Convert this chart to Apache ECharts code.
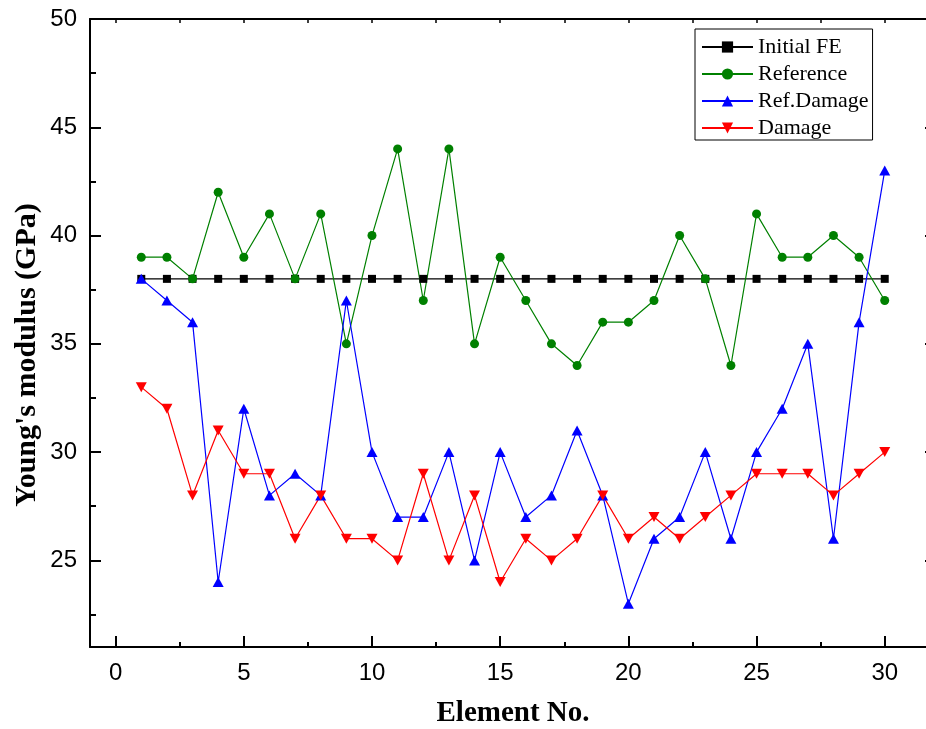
<!DOCTYPE html>
<html>
<head>
<meta charset="utf-8">
<script src="https://cdn.jsdelivr.net/npm/echarts@6/dist/echarts.min.js"></script>
<style>
  html, body { margin: 0; padding: 0; background: #fff; }
  #chart { width: 926px; height: 729px; }
</style>
</head>
<body>
<div id="chart"></div>
<script>
// Element numbers along the beam
const elements = [1, 2, 3, 4, 5, 6, 7, 8, 9, 10, 11, 12, 13, 14, 15,
                  16, 17, 18, 19, 20, 21, 22, 23, 24, 25, 26, 27, 28, 29, 30];

// Young's modulus per element (GPa)
const initialFE = [38, 38, 38, 38, 38, 38, 38, 38, 38, 38, 38, 38, 38, 38, 38,
                   38, 38, 38, 38, 38, 38, 38, 38, 38, 38, 38, 38, 38, 38, 38];
const reference = [39, 39, 38, 42, 39, 41, 38, 41, 35, 40, 44, 37, 44, 35, 39,
                   37, 35, 34, 36, 36, 37, 40, 38, 34, 41, 39, 39, 40, 39, 37];
const refDamage = [38, 37, 36, 24, 32, 28, 29, 28, 37, 30, 27, 27, 30, 25, 30,
                   27, 28, 31, 28, 23, 26, 27, 30, 26, 30, 32, 35, 26, 36, 43];
const damage    = [33, 32, 28, 31, 29, 29, 26, 28, 26, 26, 25, 29, 25, 28, 24,
                   26, 25, 26, 28, 26, 27, 26, 27, 28, 29, 29, 29, 28, 29, 30];

// Tick positions
const xMajorTicks = [0, 5, 10, 15, 20, 25, 30];
const xMinorTicks = [2.5, 7.5, 12.5, 17.5, 22.5, 27.5];
const xTopTicks   = [0, 2.5, 5, 7.5, 10, 12.5, 15, 17.5, 20, 22.5, 25, 27.5, 30];
const yMajorTicks = [25, 30, 35, 40, 45, 50];
const yMinorTicks = [22.5, 27.5, 32.5, 37.5, 42.5, 47.5];

const X_MIN = -1, X_MAX = 32, Y_MIN = 21, Y_MAX = 50;

const pairs = ys => elements.map((x, i) => [x, ys[i]]);

const sansLabel = { fontFamily: 'Liberation Sans, Arial, sans-serif', fontSize: 24, color: '#000' };
const serif = 'Liberation Serif, Times New Roman, serif';

function valueAxis(extra) {
  return Object.assign({
    type: 'value',
    splitLine: { show: false },
    axisLine: { show: false, onZero: false },
    axisLabel: { show: false },
    axisTick: { show: false }
  }, extra);
}

const chart = echarts.init(document.getElementById('chart'), null, { renderer: 'canvas' });

chart.setOption({
  backgroundColor: '#fff',
  animation: false,
  grid: { left: 90, top: 19, right: -10, bottom: 82, containLabel: false, outerBoundsMode: 'none' },
  xAxis: [
    valueAxis({
      position: 'bottom', min: X_MIN, max: X_MAX,
      axisLine: { show: true, onZero: false, lineStyle: { color: '#000', width: 2 } },
      axisTick: { show: true, inside: true, length: 11, customValues: xMajorTicks, lineStyle: { color: '#000', width: 2 } },
      axisLabel: Object.assign({ show: true, margin: 14, customValues: xMajorTicks }, sansLabel)
    }),
    valueAxis({
      position: 'bottom', min: X_MIN, max: X_MAX,
      axisTick: { show: true, inside: true, length: 5, customValues: xMinorTicks, lineStyle: { color: '#000', width: 2 } }
    }),
    valueAxis({
      position: 'top', min: X_MIN, max: X_MAX,
      axisLine: { show: true, onZero: false, lineStyle: { color: '#000', width: 2 } },
      axisTick: { show: true, inside: true, length: 4, customValues: xTopTicks, lineStyle: { color: '#000', width: 1.5 } }
    })
  ],
  yAxis: [
    valueAxis({
      position: 'left', min: Y_MIN, max: Y_MAX,
      axisLine: { show: true, onZero: false, lineStyle: { color: '#000', width: 2 } },
      axisTick: { show: true, inside: true, length: 11, customValues: yMajorTicks, lineStyle: { color: '#000', width: 2 } },
      axisLabel: Object.assign({ show: true, margin: 13, customValues: yMajorTicks }, sansLabel)
    }),
    valueAxis({
      position: 'left', min: Y_MIN, max: Y_MAX,
      axisTick: { show: true, inside: true, length: 6, customValues: yMinorTicks, lineStyle: { color: '#000', width: 2 } }
    }),
    valueAxis({
      position: 'right', min: Y_MIN, max: Y_MAX,
      axisLine: { show: true, onZero: false, lineStyle: { color: '#000', width: 2 } },
      axisTick: { show: true, inside: true, length: 11, customValues: yMajorTicks, lineStyle: { color: '#000', width: 2 } }
    })
  ],
  legend: {
    orient: 'vertical',
    left: 695, top: 29,
    padding: [7, 4, 1, 6],
    itemGap: 5,
    itemWidth: 51,
    itemHeight: 14,
    borderColor: '#000',
    borderWidth: 1,
    backgroundColor: '#fff',
    textStyle: { fontFamily: serif, fontSize: 22, color: '#000', lineHeight: 22 },
    data: ['Initial FE', 'Reference', 'Ref.Damage', 'Damage']
  },
  graphic: [{
    type: 'text',
    x: 27, y: 355,
    rotation: Math.PI / 2,
    style: {
      text: "Young's modulus (GPa)",
      font: 'bold 30px ' + serif,
      fill: '#000',
      textAlign: 'center',
      textVerticalAlign: 'middle'
    }
  }, {
    type: 'text',
    x: 513, y: 714,
    style: {
      text: 'Element No.',
      font: 'bold 29px ' + serif,
      fill: '#000',
      textAlign: 'center',
      textVerticalAlign: 'middle'
    }
  }],
  series: [
    {
      name: 'Initial FE', type: 'line', data: pairs(initialFE),
      symbol: 'rect', symbolSize: 8,
      lineStyle: { color: '#000', width: 1.2 }, itemStyle: { color: '#000' }
    },
    {
      name: 'Reference', type: 'line', data: pairs(reference),
      symbol: 'circle', symbolSize: 9,
      lineStyle: { color: '#008000', width: 1.2 }, itemStyle: { color: '#008000' }
    },
    {
      name: 'Ref.Damage', type: 'line', data: pairs(refDamage),
      symbol: 'triangle', symbolSize: [11, 10],
      lineStyle: { color: '#0000ff', width: 1.2 }, itemStyle: { color: '#0000ff' }
    },
    {
      name: 'Damage', type: 'line', data: pairs(damage),
      symbol: 'triangle', symbolRotate: 180, symbolSize: [11, 10],
      lineStyle: { color: '#ff0000', width: 1.2 }, itemStyle: { color: '#ff0000' }
    }
  ]
});
</script>
</body>
</html>
